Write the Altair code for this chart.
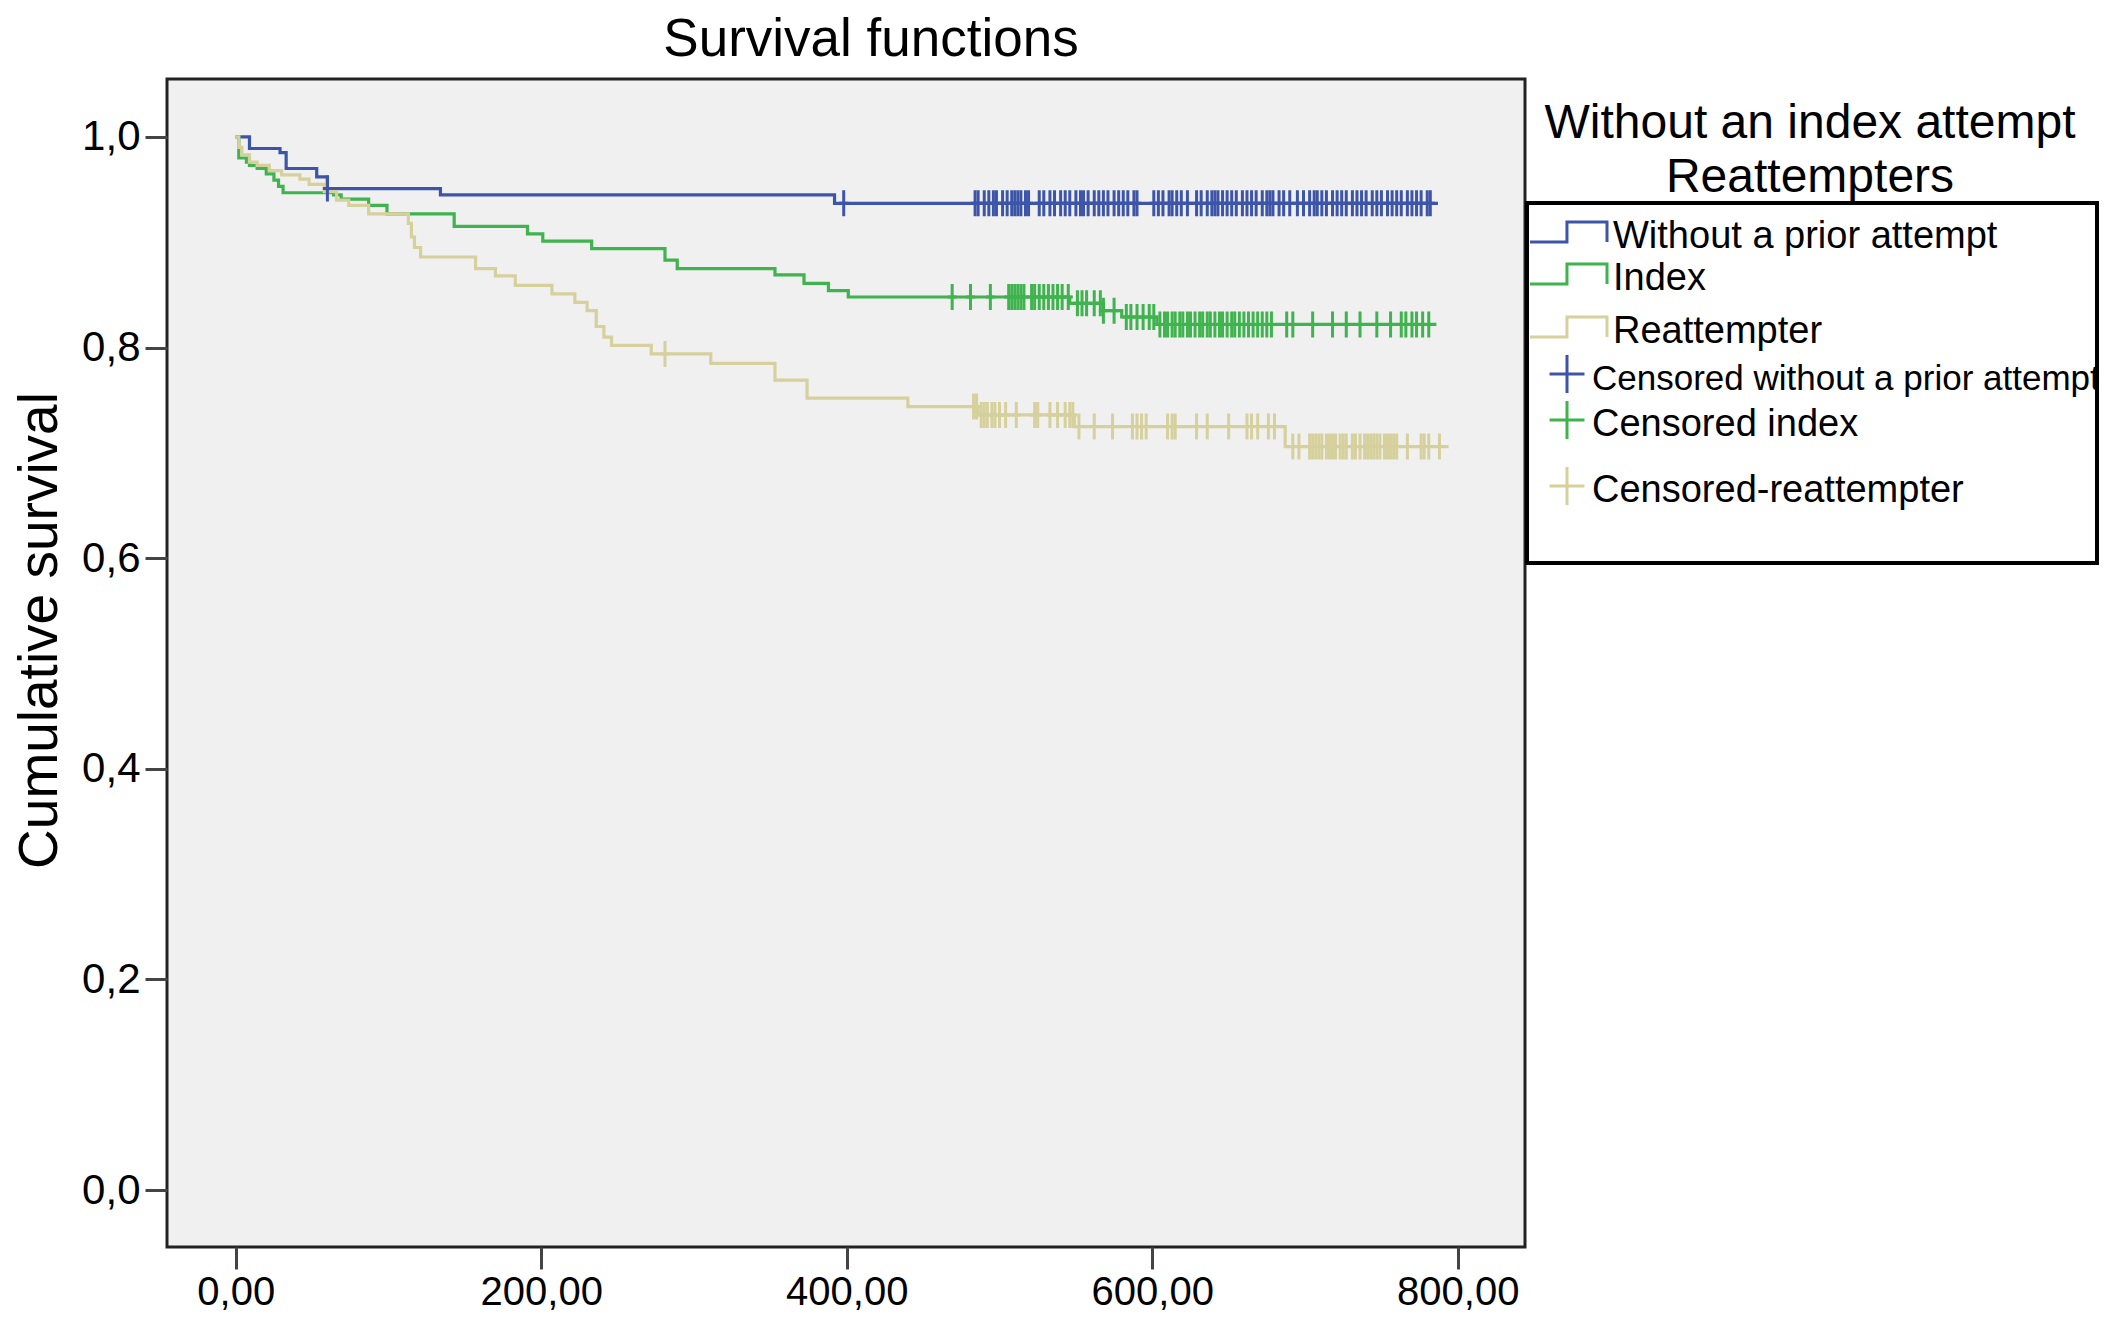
import altair as alt
import pandas as pd

# Kaplan-Meier steps: day of each drop, survival after it
blue_t = [0, 9, 29, 33, 53, 60, 134, 392]
blue_s = [1.0, 0.989, 0.985, 0.970, 0.962, 0.951, 0.945, 0.937]
blue_end = 787
blue_cens = [60, 398, 484, 486, 490, 493, 496, 498, 502, 505, 508, 510, 512, 514,
             517, 519, 526, 529, 533, 536, 540, 543, 546, 550, 553, 555, 558, 562,
             565, 568, 571, 575, 578, 581, 584, 588, 590, 601, 604, 607, 611, 613,
             616, 619, 623, 629, 632, 636, 639, 641, 643, 646, 649, 652, 655, 659,
             662, 665, 668, 672, 675, 677, 679, 683, 686, 690, 695, 699, 703, 706,
             708, 711, 714, 718, 721, 724, 727, 731, 734, 737, 740, 744, 747, 750,
             754, 757, 760, 763, 767, 770, 773, 776, 780, 782]

green_t = [0, 2, 7, 9, 14, 20, 25, 28, 31, 64, 69, 87, 99, 143, 191, 201, 233,
           281, 289, 353, 372, 388, 401, 546, 568, 580, 603]
green_s = [1.0, 0.980, 0.976, 0.973, 0.970, 0.965, 0.959, 0.953, 0.947, 0.945,
           0.941, 0.935, 0.927, 0.915, 0.908, 0.901, 0.894, 0.883, 0.875, 0.869,
           0.861, 0.854, 0.848, 0.842, 0.835, 0.829, 0.822]
green_end = 786
green_cens = [469, 481, 494, 506, 508, 510, 512, 514, 516, 521, 523, 526, 529, 532,
              535, 538, 541, 545, 551, 554, 557, 562, 566, 568, 575, 583, 586, 590,
              594, 598, 601, 605, 608, 610, 613, 615, 618, 620, 623, 625, 628, 631,
              633, 636, 638, 641, 644, 646, 649, 652, 654, 657, 660, 663, 666, 669,
              672, 675, 678, 688, 692, 705, 718, 727, 736, 747, 756, 763, 766, 770,
              773, 777, 781]

tan_t = [0, 2, 4, 9, 14, 22, 30, 42, 48, 58, 66, 74, 87, 113, 115, 117, 121, 157,
         170, 183, 207, 222, 230, 236, 241, 246, 272, 311, 353, 374, 440, 486, 549, 687]
tan_s = [1.0, 0.990, 0.983, 0.976, 0.973, 0.968, 0.964, 0.960, 0.955, 0.948, 0.940,
         0.935, 0.927, 0.918, 0.905, 0.895, 0.886, 0.875, 0.868, 0.859, 0.851, 0.843,
         0.835, 0.820, 0.810, 0.802, 0.794, 0.785, 0.769, 0.752, 0.744, 0.736, 0.725, 0.706]
tan_end = 794
tan_cens = [281, 483, 485, 488, 490, 492, 495, 497, 500, 504, 511, 523, 525, 533,
            538, 543, 546, 548, 552, 562, 574, 587, 590, 593, 596, 610, 613, 615,
            629, 636, 650, 662, 665, 669, 676, 680, 692, 696, 703, 705, 707, 709,
            711, 714, 716, 718, 720, 723, 725, 727, 731, 733, 736, 739, 741, 743,
            745, 747, 749, 752, 754, 756, 758, 760, 767, 776, 778, 781, 788]

line_labels = ['Without a prior attempt', 'Index', 'Reattempter']
cens_labels = ['Censored without a prior attempt', 'Censored index',
               'Censored-reattempter']
x_ticks = [0, 200, 400, 600, 800]
y_ticks = [0.0, 0.2, 0.4, 0.6, 0.8, 1.0]

BLUE, GREEN, TAN = '#3d55a8', '#3fb34d', '#d6d09c'
FONT = 'Liberation Sans'

groups = [(blue_t, blue_s, blue_end, blue_cens),
          (green_t, green_s, green_end, green_cens),
          (tan_t, tan_s, tan_end, tan_cens)]

step_rows, cens_rows = [], []
for (ts, ss, end, cens), lab, clab in zip(groups, line_labels, cens_labels):
    for t, s in zip(ts, ss):
        step_rows.append({'label': lab, 't': t, 's': s})
    step_rows.append({'label': lab, 't': end, 's': ss[-1]})
    for c in cens:
        s_at = [s for t, s in zip(ts, ss) if t <= c][-1]
        cens_rows.append({'label': clab, 't': c, 's': s_at})
steps = pd.DataFrame(step_rows)
censored = pd.DataFrame(cens_rows)

all_labels = line_labels + cens_labels
palette = [BLUE, GREEN, TAN, BLUE, GREEN, TAN]
stroke_scale = alt.Scale(domain=all_labels, range=palette)

x_enc = alt.X('t:Q', scale=alt.Scale(domain=[-45, 844], nice=False, zero=False),
              axis=alt.Axis(values=x_ticks, title=None,
                            labelExpr="replace(format(datum.value, '.2f'), '.', ',')",
                            tickSize=22, tickWidth=3, tickColor='#444',
                            labelFontSize=40, labelPadding=3, labelFont=FONT,
                            labelColor='black', domain=False, grid=False))
y_enc = alt.Y('s:Q', scale=alt.Scale(domain=[-0.054, 1.055], nice=False, zero=False),
              axis=alt.Axis(values=y_ticks, title='Cumulative survival',
                            labelExpr="replace(format(datum.value, '.1f'), '.', ',')",
                            tickSize=22, tickWidth=3, tickColor='#444',
                            labelFontSize=42, labelPadding=5, labelFont=FONT,
                            labelColor='black', domain=False, grid=False,
                            titleFont=FONT, titleFontSize=55, titleFontWeight='normal',
                            titleColor='black', titleAngle=270, titleAlign='center',
                            titleBaseline='alphabetic', titleX=-111, titleY=551))

lines = alt.Chart(steps).mark_line(interpolate='step-after', strokeWidth=3.2).encode(
    x=x_enc, y=y_enc,
    stroke=alt.Stroke('label:N', scale=stroke_scale, legend=None),
    detail='label:N')

marks = alt.Chart(censored).mark_point(
    shape='M -0.35 0 L 0.35 0 M 0 -1 L 0 1', filled=False, size=676,
    strokeWidth=3, opacity=1).encode(
    x='t:Q', y='s:Q',
    stroke=alt.Stroke('label:N', scale=stroke_scale, legend=None))

# key drawn by hand, to sit in a box the way the original does
step_icon = 'M -1 0.26 L -0.04 0.26 L -0.04 -0.26 L 1 -0.26 L 1 0.26'
cross_icon = 'M -0.92 0 L 0.92 0 M 0 -1 L 0 1'
row_base = [169, 211, 264, 311, 357, 423]
key_layers = []
for i, lab in enumerate(all_labels):
    is_line = i < 3
    one = alt.Chart(pd.DataFrame({'label': [lab]}))
    key_layers.append(one.mark_point(
        shape=step_icon if is_line else cross_icon, filled=False,
        size=5929 if is_line else 1444, strokeWidth=3, opacity=1,
        stroke=palette[i]).encode(
        x=alt.value(1401.5 if is_line else 1400), y=alt.value(row_base[i] - 16)))
    key_layers.append(one.mark_text(
        align='left', baseline='alphabetic', fontSize=35 if i == 3 else 38,
        font=FONT, color='black').encode(
        text='label:N', x=alt.value(1446 if is_line else 1425),
        y=alt.value(row_base[i])))

key_box = alt.Chart(pd.DataFrame({'k': [0]})).mark_rect(
    filled=False, stroke='black', strokeWidth=4).encode(
    x=alt.value(1360), x2=alt.value(1930), y=alt.value(124), y2=alt.value(484))

key_title = alt.Chart(pd.DataFrame(
    {'text': ['Without an index attempt\nReattempters']})).mark_text(
    align='center', baseline='alphabetic', fontSize=48, lineHeight=54,
    font=FONT, color='black', lineBreak='\n').encode(
    text='text:N', x=alt.value(1643), y=alt.value(59))

chart_title = alt.Chart(pd.DataFrame({'text': ['Survival functions']})).mark_text(
    align='center', baseline='alphabetic', fontSize=53, font=FONT,
    color='black').encode(text='text:N', x=alt.value(704), y=alt.value(-23))

chart = alt.layer(lines, marks, *key_layers, key_box, key_title, chart_title).properties(
    width=1358, height=1168,
    autosize=alt.AutoSizeParams(type='none'),
    padding={'left': 159, 'top': 71, 'right': 574, 'bottom': 64},
).configure_view(fill='#f0f0f0', stroke='#222', strokeWidth=3)

chart.save('out.html', embed_options={'renderer': 'svg', 'actions': False})
